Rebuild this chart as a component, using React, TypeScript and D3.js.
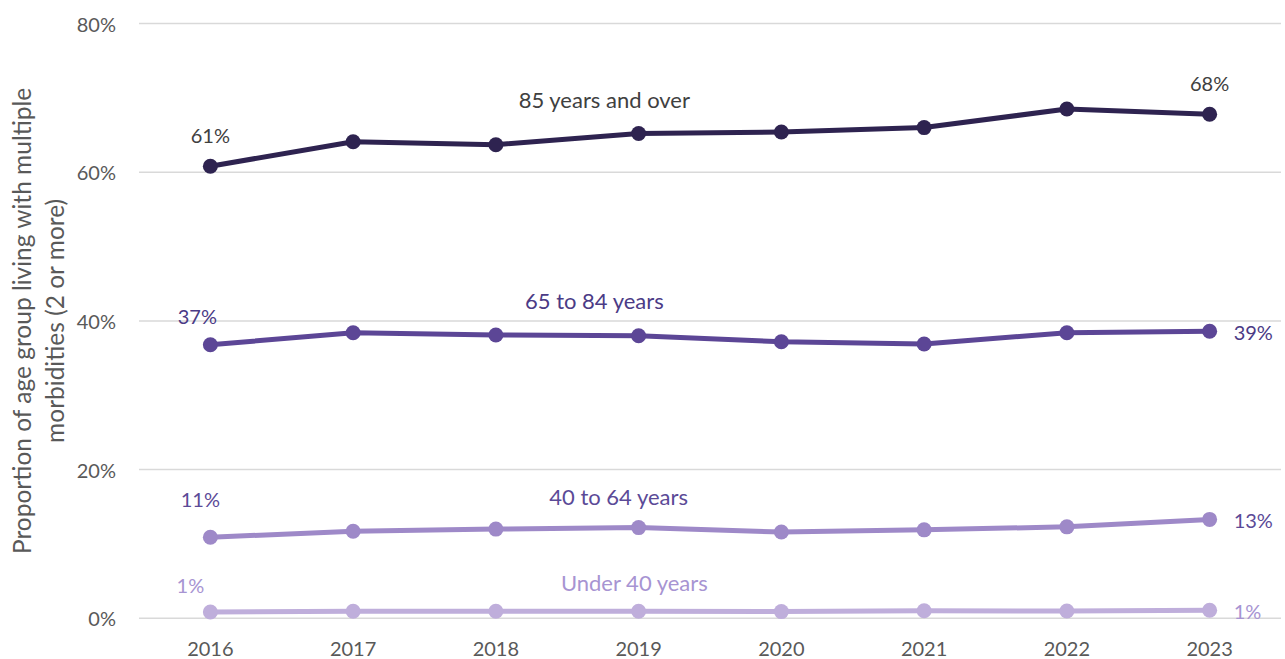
import React from "react";
import * as d3 from "d3";

// Survey years on the x axis
const YEARS = ["2016", "2017", "2018", "2019", "2020", "2021", "2022", "2023"];

// Share of each age group living with 2 or more morbidities (%)
const OVER_85 = [60.8, 64.1, 63.7, 65.2, 65.4, 66.0, 68.5, 67.8];
const AGE_65_84 = [36.8, 38.4, 38.1, 38.0, 37.2, 36.9, 38.4, 38.6];
const AGE_40_64 = [10.9, 11.7, 12.0, 12.2, 11.6, 11.9, 12.3, 13.3];
const UNDER_40 = [0.85, 0.94, 0.94, 0.94, 0.9, 1.02, 0.98, 1.08];

const SERIES_NAMES = ["85 years and over", "65 to 84 years", "40 to 64 years", "Under 40 years"];
const Y_TICKS = [0, 20, 40, 60, 80];

const Y_TITLE_LINES = ["Proportion of age group living with multiple", "morbidities (2 or more)"];

// Drawing styles and label placement for each series
const STYLES = [
  {
    line: "#2e2350",
    text: "#404040",
    first: { dx: 0, dy: -31, anchor: "middle" },
    last: { dx: 0, dy: -31, anchor: "middle" },
    name: { at: 2.76, dy: -37 },
  },
  {
    line: "#5c4696",
    text: "#4b3b86",
    first: { dx: -13, dy: -29, anchor: "middle" },
    last: { dx: 24, dy: 1, anchor: "start" },
    name: { at: 2.69, dy: -35 },
  },
  {
    line: "#9e89c8",
    text: "#5b4a97",
    first: { dx: -10, dy: -38, anchor: "middle" },
    last: { dx: 24, dy: 1, anchor: "start" },
    name: { at: 2.86, dy: -31 },
  },
  {
    line: "#bfaedb",
    text: "#a794d2",
    first: { dx: -20, dy: -27, anchor: "middle" },
    last: { dx: 24, dy: 1, anchor: "start" },
    name: { at: 2.97, dy: -29 },
  },
];

const WIDTH = 1285;
const HEIGHT = 659;
const FONT = "Lato, 'Open Sans', sans-serif";

export default function App() {
  const seriesValues = [OVER_85, AGE_65_84, AGE_40_64, UNDER_40];

  const x = d3.scaleBand<string>().domain(YEARS).range([139, 1281]).padding(0);
  const y = d3.scaleLinear().domain([0, 80]).range([618.3, 23.5]);
  const cx = (i: number) => (x(YEARS[i]) as number) + x.bandwidth() / 2;
  const cxf = (t: number) => {
    const i = Math.floor(t);
    return cx(i) + (t - i) * x.bandwidth();
  };
  const interpY = (vals: number[], t: number) => {
    const i = Math.min(Math.floor(t), vals.length - 2);
    const f = t - i;
    return y(vals[i] * (1 - f) + vals[i + 1] * f);
  };

  const line = d3
    .line<number>()
    .x((_, i) => cx(i))
    .y((d) => y(d));

  const last = YEARS.length - 1;

  return (
    <svg
      width={WIDTH}
      height={HEIGHT}
      style={{ position: "absolute", left: 0, top: 0, background: "#fff" }}
      fontFamily={FONT}
    >
      {/* gridlines and y tick labels */}
      {Y_TICKS.map((t) => (
        <g key={t}>
          <line x1={139} x2={1281} y1={y(t)} y2={y(t)} stroke="#d9d9d9" strokeWidth={1.5} />
          <text
            x={116}
            y={y(t)}
            textAnchor="end"
            dominantBaseline="central"
            fontSize={20}
            fill="#595959"
          >
            {`${t}%`}
          </text>
        </g>
      ))}

      {/* x tick labels */}
      {YEARS.map((yr, i) => (
        <text
          key={yr}
          x={cx(i)}
          y={648}
          textAnchor="middle"
          dominantBaseline="central"
          fontSize={20}
          fill="#595959"
        >
          {yr}
        </text>
      ))}

      {/* y axis title */}
      <text
        transform={`translate(21, ${(y(0) + y(80)) / 2}) rotate(-90)`}
        textAnchor="middle"
        dominantBaseline="central"
        fontSize={24.5}
        fill="#595959"
      >
        <tspan x={0} dy={0}>{Y_TITLE_LINES[0]}</tspan>
        <tspan x={0} dy={33}>{Y_TITLE_LINES[1]}</tspan>
      </text>

      {/* series lines, markers and labels */}
      {seriesValues.map((vals, s) => {
        const st = STYLES[s];
        return (
          <g key={SERIES_NAMES[s]}>
            <path d={line(vals) ?? ""} fill="none" stroke={st.line} strokeWidth={5} strokeLinejoin="round" />
            {vals.map((v, i) => (
              <circle key={i} cx={cx(i)} cy={y(v)} r={7.5} fill={st.line} />
            ))}
            <text
              x={cx(0) + st.first.dx}
              y={y(vals[0]) + st.first.dy}
              textAnchor={st.first.anchor}
              dominantBaseline="central"
              fontSize={20}
              fill={st.text}
            >
              {`${Math.round(vals[0])}%`}
            </text>
            <text
              x={cx(last) + st.last.dx}
              y={y(vals[last]) + st.last.dy}
              textAnchor={st.last.anchor}
              dominantBaseline="central"
              fontSize={20}
              fill={st.text}
            >
              {`${Math.round(vals[last])}%`}
            </text>
            <text
              x={cxf(st.name.at)}
              y={interpY(vals, st.name.at) + st.name.dy}
              textAnchor="middle"
              dominantBaseline="central"
              fontSize={22}
              fill={st.text}
            >
              {SERIES_NAMES[s]}
            </text>
          </g>
        );
      })}
    </svg>
  );
}
